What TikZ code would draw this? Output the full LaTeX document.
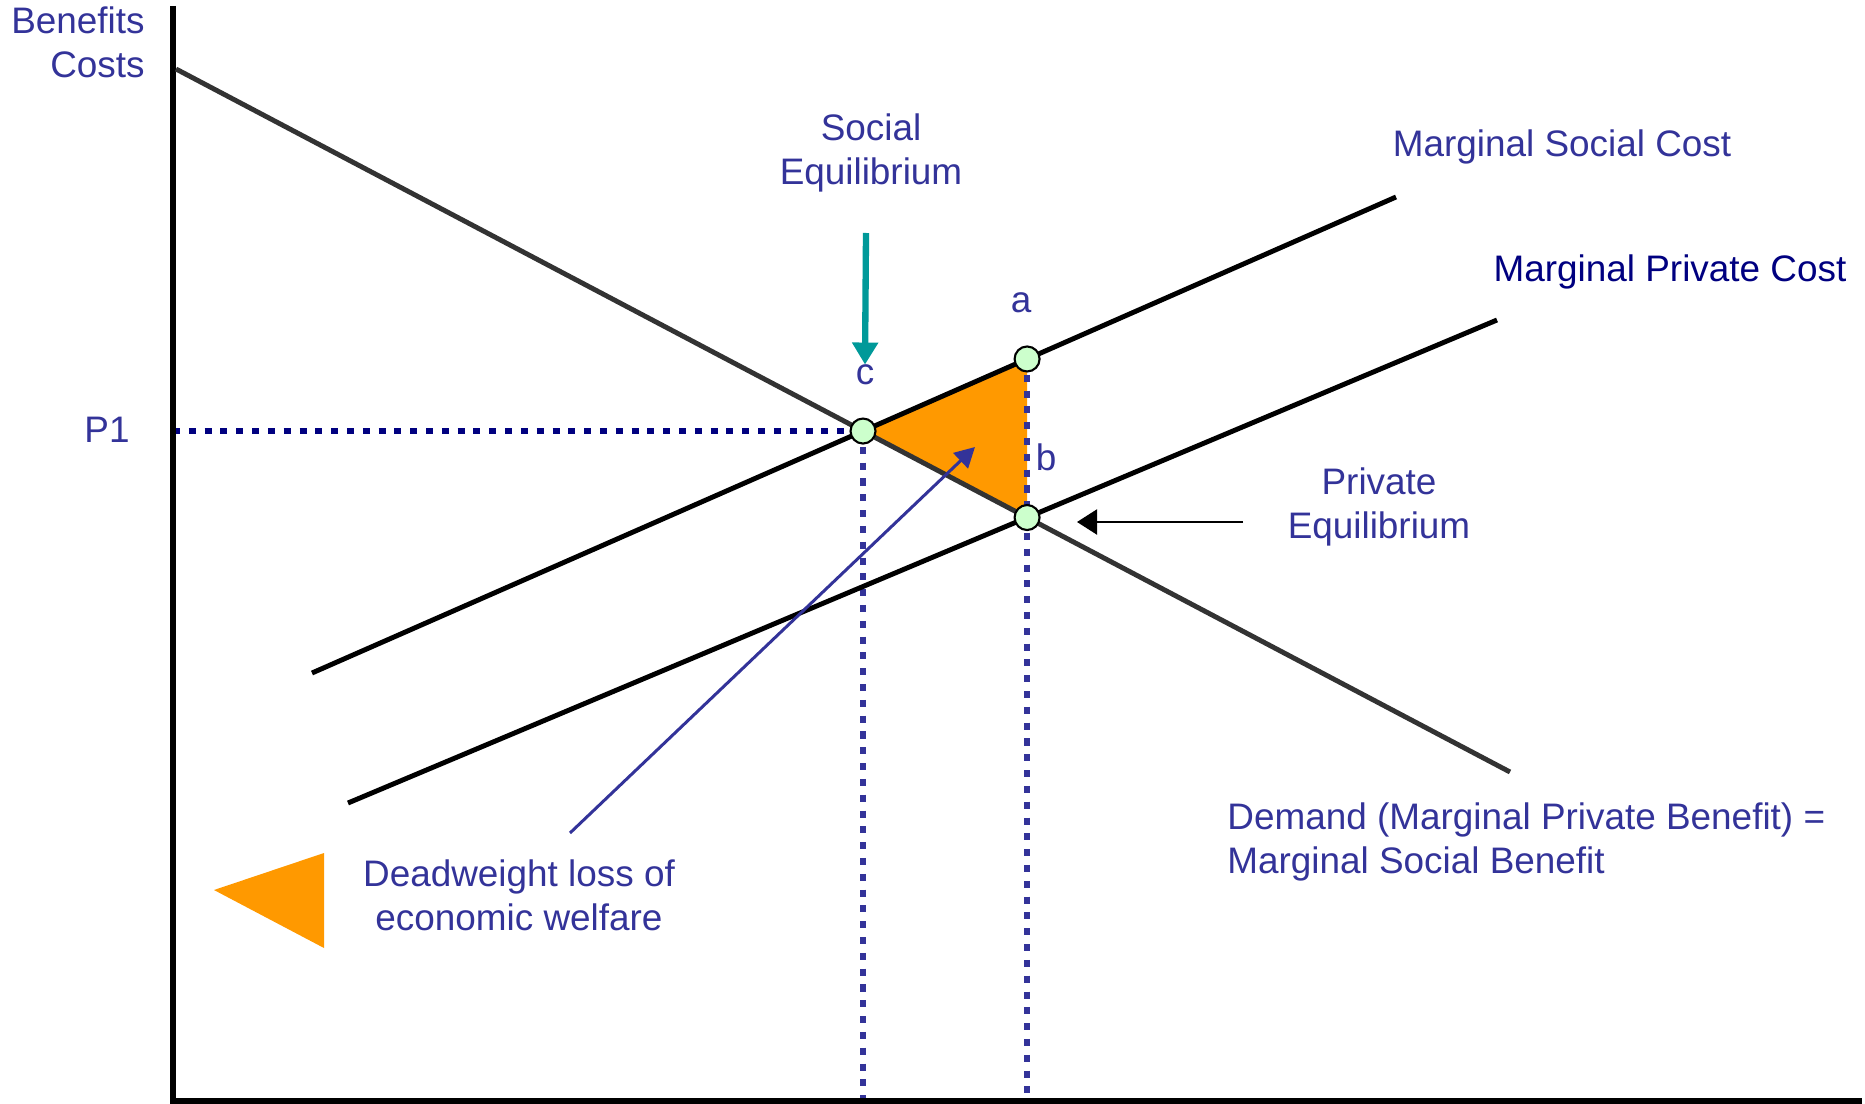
\documentclass[tikz,border=0pt]{standalone}
\usepackage{fontspec}
\setmainfont{Liberation Sans}
\usetikzlibrary{arrows.meta,intersections}
\definecolor{lblue}{HTML}{333399}
\definecolor{navy}{HTML}{000080}
\definecolor{dwl}{HTML}{FF9900}
\definecolor{tealarr}{HTML}{009999}
\definecolor{ptgreen}{HTML}{CCFFCC}
\definecolor{demgray}{HTML}{333333}
\begin{document}
\begin{tikzpicture}[x=0.02cm, y=-0.02cm,
    lbl/.style={text=lblue, font=\fontsize{21}{25}\selectfont, align=center, inner sep=0pt},
    pt/.style={circle, draw=black, line width=1.2pt, fill=ptgreen, minimum size=0.5cm, inner sep=0pt},
    curve/.style={line width=2.8pt},
    guide/.style={line width=3.4pt, dash pattern=on 4pt off 5pt},
    axis/.style={line width=3.4pt}]
    \useasboundingbox (0,0) rectangle (1865,1104);

    \coordinate (ytop) at (173,6);
    \coordinate (origin) at (173,1101);
    \coordinate (xend) at (1862,1101);

    \coordinate (demStart) at (176,69);
    \coordinate (demEnd) at (1510,772);
    \coordinate (mscStart) at (312,673);
    \coordinate (mscEnd) at (1396,197);
    \coordinate (mpcStart) at (348,803);
    \coordinate (mpcEnd) at (1497,320);

    \path[name path=demand] (demStart) -- (demEnd);
    \path[name path=msc] (mscStart) -- (mscEnd);
    \path[name path=mpc] (mpcStart) -- (mpcEnd);
    \path[name intersections={of=demand and msc, by=cpt}];
    \path[name intersections={of=demand and mpc, by=bpt}];
    \path[name path=upb] (bpt) -- ++(0,-300);
    \path[name intersections={of=msc and upb, by=apt}];

    % deadweight loss
    \fill[dwl] (cpt) -- (apt) -- (bpt) -- cycle;
    \fill[dwl] (214,890) -- (324,853) -- (324,948) -- cycle;

    \draw[guide, navy] (cpt -| origin) -- (cpt);
    \draw[guide, lblue] (cpt) -- (cpt |- origin);
    \draw[guide, lblue] (apt) -- (apt |- origin);

    \draw[axis] (ytop) -- (origin) -- (xend);
    \draw[curve, demgray] (demStart) -- (demEnd);
    \draw[curve] (mscStart) -- (mscEnd);
    \draw[curve] (mpcStart) -- (mpcEnd);

    \node[pt] (c) at (cpt) {};
    \node[pt] (a) at (apt) {};
    \node[pt] (b) at (bpt) {};

    \node[lbl, align=right, anchor=east] (axisLbl) at (145,42) {Benefits\\Costs};
    \node[lbl] (p1) at (107,430) {P1};
    \node[lbl] (socEq) at (871,153) {Social\\Equilibrium};
    \node[lbl] (cLbl) at (865,375) {c};
    \node[lbl] (aLbl) at (1021,303) {a};
    \node[lbl] (bLbl) at (1046,457) {b};
    \node[lbl] (mscLbl) at (1562,147) {Marginal Social Cost};
    \node[lbl, text=navy] (mpcLbl) at (1670,272) {Marginal Private Cost};
    \node[lbl] (pvEq) at (1379,507) {Private\\Equilibrium};
    \node[lbl, align=left, anchor=west] (demLbl) at (1227,842) {Demand (Marginal Private Benefit) =\\Marginal Social Benefit};
    \node[lbl] (dwLbl) at (519,895) {Deadweight loss of\\economic welfare};

    \coordinate (socTail) at (866,233);
    \coordinate (pvTail) at (1243,522);
    \coordinate (pvTip) at (1077,522);
    \coordinate (dwTail) at (570,833);
    \coordinate (dwTip) at (975,447);

    \draw[tealarr, line width=3.6pt, -{Triangle[width=0.5cm, length=0.44cm]}] (socTail) -- (cLbl.north);
    \draw[line width=1.2pt, -{Triangle[width=0.5cm, length=0.4cm]}] (pvTail) -- (pvTip);
    \draw[lblue, line width=1.7pt, -{Triangle[width=0.42cm, length=0.4cm]}] (dwTail) -- (dwTip);
\end{tikzpicture}
\end{document}
